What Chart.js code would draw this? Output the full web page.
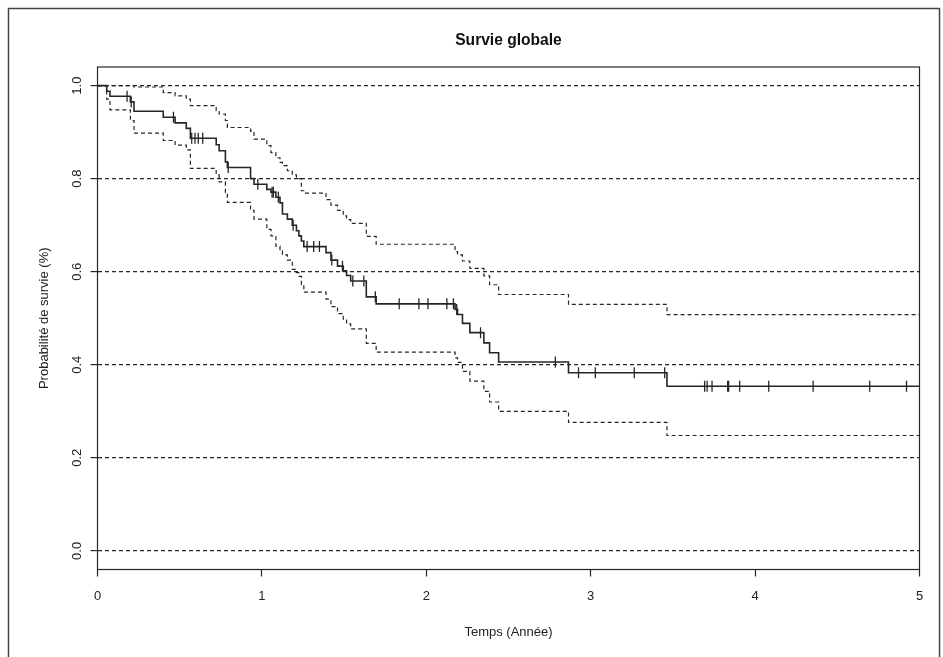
<!DOCTYPE html>
<html>
<head>
<meta charset="utf-8">
<script src="https://cdn.jsdelivr.net/npm/chart.js@4/dist/chart.umd.min.js"></script>
<style>
  html, body { margin: 0; padding: 0; background: #fff; }
  #wrap { width: 943px; height: 657px; position: relative; }
</style>
</head>
<body>
<div id="wrap"><canvas id="km" width="943" height="657"></canvas></div>
<script>
// Kaplan-Meier estimate: event times (years) and the step values after each event
const eventTimes = [
  0.056, 0.076, 0.200, 0.222, 0.400, 0.472, 0.540, 0.565, 0.722, 0.740,
  0.778, 0.790, 0.931, 0.952, 1.030, 1.055, 1.085, 1.110, 1.125, 1.155,
  1.185, 1.210, 1.225, 1.240, 1.255, 1.390, 1.420, 1.460, 1.495, 1.515,
  1.540, 1.635, 1.695, 2.175, 2.190, 2.220, 2.265, 2.350, 2.385, 2.440,
  2.865, 3.464
];
const survival = [
  0.988, 0.977, 0.965, 0.945, 0.932, 0.920, 0.908, 0.887, 0.873, 0.860,
  0.836, 0.824, 0.800, 0.788, 0.777, 0.771, 0.760, 0.748, 0.724, 0.713,
  0.700, 0.688, 0.677, 0.666, 0.654, 0.641, 0.625, 0.612, 0.602, 0.592,
  0.580, 0.546, 0.531, 0.519, 0.508, 0.489, 0.469, 0.447, 0.426, 0.406,
  0.383, 0.354
];
const upperCI = [
  1.000, 1.000, 1.000, 0.997, 0.985, 0.978, 0.971, 0.957, 0.946, 0.939,
  0.925, 0.910, 0.902, 0.885, 0.871, 0.856, 0.845, 0.835, 0.828, 0.817,
  0.808, 0.803, 0.800, 0.774, 0.769, 0.755, 0.743, 0.732, 0.720, 0.712,
  0.704, 0.676, 0.659, 0.643, 0.636, 0.623, 0.607, 0.591, 0.572, 0.551,
  0.530, 0.508
];
const lowerCI = [
  0.971, 0.948, 0.925, 0.898, 0.882, 0.872, 0.862, 0.822, 0.808, 0.793,
  0.770, 0.749, 0.732, 0.713, 0.691, 0.677, 0.655, 0.645, 0.636, 0.625,
  0.605, 0.598, 0.590, 0.572, 0.556, 0.541, 0.525, 0.510, 0.498, 0.488,
  0.477, 0.446, 0.427, 0.415, 0.405, 0.386, 0.365, 0.343, 0.320, 0.300,
  0.276, 0.248
];
// censored observations (years)
const censorTimes = [
  0.180, 0.205, 0.462, 0.573, 0.593, 0.613, 0.640, 0.795, 0.975, 1.062,
  1.070, 1.100, 1.190, 1.275, 1.315, 1.350, 1.425, 1.490, 1.553, 1.620,
  1.690, 1.835, 1.955, 2.010, 2.125, 2.165, 2.185, 2.330, 2.785, 2.926,
  3.028, 3.265, 3.450, 3.693, 3.708, 3.738, 3.833, 3.839, 3.906, 4.083,
  4.353, 4.697, 4.921
];
const xTicks = [0, 1, 2, 3, 4, 5];
const yTicks = [0, 0.2, 0.4, 0.6, 0.8, 1.0];
const followUpEnd = 5;

const FONT = "'Liberation Sans', Arial, Helvetica, sans-serif";
const INK = '#262626';

// step series: start at 1, one point per event, held to the end of follow-up
function stepSeries(values) {
  const pts = [{ x: 0, y: 1 }];
  eventTimes.forEach((t, i) => pts.push({ x: t, y: values[i] }));
  pts.push({ x: followUpEnd, y: values[values.length - 1] });
  return pts;
}
// survival level in force at time t
function levelAt(t) {
  let s = 1;
  eventTimes.forEach((et, i) => { if (et <= t) s = survival[i]; });
  return s;
}
const censorPoints = censorTimes.map(t => ({ x: t, y: levelAt(t) }));

const frameAndTitle = {
  id: 'frameAndTitle',
  beforeDraw(chart) {
    const ctx = chart.ctx;
    ctx.save();
    ctx.fillStyle = '#fff';
    ctx.fillRect(0, 0, chart.width, chart.height);
    ctx.strokeStyle = '#444';
    ctx.lineWidth = 1.5;
    ctx.strokeRect(8.5, 8.5, 931, 700);
    ctx.restore();
  },
  afterDatasetsDraw(chart) {
    const { ctx, chartArea: a } = chart;
    ctx.save();
    ctx.strokeStyle = INK;
    ctx.lineWidth = 1.2;
    ctx.strokeRect(a.left, a.top, a.right - a.left, a.bottom - a.top);
    ctx.fillStyle = '#111';
    ctx.font = "bold 15.6px " + FONT;
    ctx.textAlign = 'center';
    ctx.textBaseline = 'middle';
    ctx.fillText('Survie globale', (a.left + a.right) / 2, 41);
    ctx.restore();
  }
};

const dashed = [4, 3];

new Chart(document.getElementById('km'), {
  type: 'line',
  data: {
    datasets: [
      {
        label: 'Survie',
        data: stepSeries(survival),
        stepped: 'before',
        borderColor: INK,
        borderWidth: 1.6,
        pointRadius: 0,
        fill: false
      },
      {
        label: 'IC sup.',
        data: stepSeries(upperCI),
        stepped: 'before',
        borderColor: INK,
        borderWidth: 1.2,
        borderDash: dashed,
        pointRadius: 0,
        fill: false
      },
      {
        label: 'IC inf.',
        data: stepSeries(lowerCI),
        stepped: 'before',
        borderColor: INK,
        borderWidth: 1.2,
        borderDash: dashed,
        pointRadius: 0,
        fill: false
      },
      {
        label: 'Censures',
        data: censorPoints,
        showLine: false,
        pointStyle: 'line',
        pointRotation: 90,
        pointRadius: 5.5,
        pointHoverRadius: 5.5,
        pointBorderColor: INK,
        pointBorderWidth: 1.3
      }
    ]
  },
  options: {
    responsive: false,
    animation: false,
    devicePixelRatio: 1,
    events: [],
    layout: { padding: { top: 67, right: 23.5, bottom: 0, left: 0 } },
    plugins: { legend: { display: false }, title: { display: false }, tooltip: { enabled: false } },
    scales: {
      x: {
        type: 'linear',
        min: 0,
        max: 5,
        afterBuildTicks(scale) { scale.ticks = xTicks.map(v => ({ value: v })); },
        afterFit(scale) { scale.height = 87.5; },
        border: { display: false },
        grid: { drawOnChartArea: false, drawTicks: true, tickLength: 7, tickColor: INK, tickWidth: 1.2 },
        ticks: { color: '#222', font: { family: FONT, size: 13 }, padding: 12, maxRotation: 0, callback: v => String(v) },
        title: { display: true, text: 'Temps (Année)', color: '#222', font: { family: FONT, size: 13 }, padding: { top: 0, bottom: 17 } }
      },
      y: {
        type: 'linear',
        min: -0.04,
        max: 1.04,
        afterBuildTicks(scale) { scale.ticks = yTicks.map(v => ({ value: v })); },
        afterFit(scale) { scale.width = 97.5; },
        border: { display: false, dash: dashed },
        grid: { drawOnChartArea: true, color: INK, lineWidth: 1.2, drawTicks: true, tickLength: 7, tickColor: INK, tickWidth: 1.2, tickBorderDash: [] },
        ticks: { color: '#222', font: { family: FONT, size: 13 }, padding: 4, minRotation: 90, maxRotation: 90, crossAlign: 'center', callback: v => v.toFixed(1) },
        title: { display: true, text: 'Probabilité de survie (%)', color: '#222', font: { family: FONT, size: 13 }, padding: { top: 37, bottom: 0 } }
      }
    }
  },
  plugins: [frameAndTitle]
});
</script>
</body>
</html>
